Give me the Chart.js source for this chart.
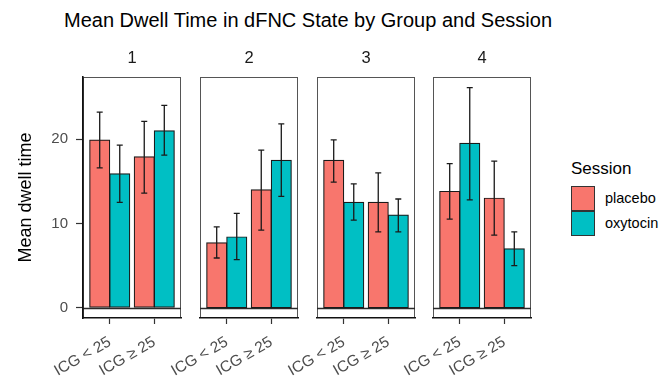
<!DOCTYPE html>
<html>
<head>
<meta charset="utf-8">
<script src="https://cdn.jsdelivr.net/npm/chart.js@4/dist/chart.umd.min.js"></script>
<style>
  body { margin: 0; background: #fff; font-family: 'Liberation Sans', Arial, sans-serif; }
  #wrap { position: relative; width: 670px; height: 378px; overflow: hidden; }
  canvas { position: absolute; top: 0; }
  .txt { position: absolute; white-space: nowrap; }
</style>
</head>
<body>
<div id="wrap">
  <div class="txt" style="left:64px;top:10px;font-size:20px;line-height:20px;color:#000">Mean Dwell Time in dFNC State by Group and Session</div>
</div>
<script>
// dFNC states (facets), ICG groups (x), sessions (fill)
const states = ['1', '2', '3', '4']
const groups = ['ICG < 25', 'ICG ≥ 25']
const sessions = ['placebo', 'oxytocin']
const yTicks = [0, 10, 20]

// one [ICG<25, ICG>=25] pair per state
const placeboMean = [[19.9, 17.9], [7.7, 14.0], [17.5, 12.5], [13.8, 13.0]]
const placeboLow = [[16.6, 13.6], [5.9, 9.2], [14.9, 9.0], [10.5, 8.6]]
const placeboHigh = [[23.2, 22.1], [9.6, 18.7], [19.9, 16.0], [17.1, 17.4]]
const oxytocinMean = [[15.9, 21.0], [8.4, 17.5], [12.5, 11.0], [19.5, 7.0]]
const oxytocinLow = [[12.5, 18.1], [5.7, 13.2], [10.4, 9.0], [12.8, 5.0]]
const oxytocinHigh = [[19.3, 24.0], [11.2, 21.8], [14.7, 12.9], [26.1, 9.0]]

const colors = ['#F8766D', '#00BFC4']

Chart.defaults.font.family = "'Liberation Sans', Arial, sans-serif"

const wrap = document.getElementById('wrap')
const panelLeft = [83, 200, 317, 433]
const panelWidth = 98
const panelTop = 77
const axisHeight = 60

// grey panel border + line at zero, drawn under the axes
const panelFrame = {
  id: 'panelFrame',
  beforeDraw(chart) {
    const { ctx, chartArea: a, scales: { y } } = chart
    ctx.save()
    ctx.strokeStyle = '#555'
    ctx.lineWidth = 1
    ctx.strokeRect(a.left + 0.5, a.top + 0.5, a.right - a.left - 1, a.bottom - a.top - 1)
    const y0 = Math.round(y.getPixelForValue(0)) + 0.5
    ctx.strokeStyle = '#2a2a2a'
    ctx.lineWidth = 1.3
    ctx.beginPath()
    ctx.moveTo(a.left, y0)
    ctx.lineTo(a.right, y0)
    ctx.stroke()
    ctx.restore()
  }
}

const errorBars = {
  id: 'errorBars',
  afterDatasetsDraw(chart) {
    const { ctx, scales: { y } } = chart
    ctx.save()
    ctx.strokeStyle = '#1a1a1a'
    ctx.lineWidth = 1.3
    chart.data.datasets.forEach((ds, d) => {
      chart.getDatasetMeta(d).data.forEach((bar, i) => {
        const lo = y.getPixelForValue(ds.errLow[i])
        const hi = y.getPixelForValue(ds.errHigh[i])
        ctx.beginPath()
        ctx.moveTo(bar.x, lo); ctx.lineTo(bar.x, hi)
        ctx.moveTo(bar.x - 3, lo); ctx.lineTo(bar.x + 3, lo)
        ctx.moveTo(bar.x - 3, hi); ctx.lineTo(bar.x + 3, hi)
        ctx.stroke()
      })
    })
    ctx.restore()
  }
}

function makeDataset(label, color, means, lows, highs) {
  return {
    label,
    data: means.map((v, i) => ({ x: i + 1, y: v })),
    errLow: lows,
    errHigh: highs,
    backgroundColor: color,
    borderColor: '#1a1a1a',
    borderWidth: 1.2,
    borderSkipped: false,
    inflateAmount: 0.5,
    categoryPercentage: 0.9,
    barPercentage: 1.0
  }
}

states.forEach((state, s) => {
  const first = s === 0
  const padLeft = first ? 0 : 60
  const canvasLeft = first ? 0 : panelLeft[s] - 60
  const canvas = document.createElement('canvas')
  canvas.width = padLeft + (first ? panelLeft[0] : 0) + panelWidth + 2
  canvas.height = 378
  canvas.style.left = canvasLeft + 'px'
  wrap.appendChild(canvas)

  const strip = document.createElement('div')
  strip.className = 'txt'
  strip.textContent = state
  strip.style.cssText = `left:${panelLeft[s]}px;width:${panelWidth}px;text-align:center;top:48px;font-size:16.5px;line-height:18px;color:#1a1a1a`
  wrap.appendChild(strip)

  new Chart(canvas, {
    type: 'bar',
    data: {
      datasets: [
        makeDataset(sessions[0], colors[0], placeboMean[s], placeboLow[s], placeboHigh[s]),
        makeDataset(sessions[1], colors[1], oxytocinMean[s], oxytocinLow[s], oxytocinHigh[s])
      ]
    },
    options: {
      responsive: false,
      animation: false,
      devicePixelRatio: 1,
      layout: { padding: { left: padLeft, right: 2, top: panelTop, bottom: 0 } },
      plugins: { legend: { display: false }, tooltip: { enabled: false } },
      scales: {
        x: {
          type: 'linear',
          min: 0.4,
          max: 2.6,
          bounds: 'data',
          offset: false,
          afterBuildTicks: (scale) => { scale.ticks = groups.map((g, i) => ({ value: i + 1 })) },
          afterFit: (scale) => { scale.height = axisHeight },
          grid: { offset: false, drawOnChartArea: false, tickLength: 6, tickColor: '#333', tickWidth: 1.2 },
          border: { display: true, color: '#111', width: 1.6 },
          ticks: {
            autoSkip: false,
            minRotation: 30,
            maxRotation: 30,
            padding: 9,
            color: '#4d4d4d',
            font: { size: 15.5 },
            callback: (v, i) => groups[i]
          }
        },
        y: {
          display: first,
          min: -1.22,
          max: 27.37,
          afterBuildTicks: (scale) => { scale.ticks = yTicks.map(v => ({ value: v })) },
          afterFit: (scale) => { if (first) scale.width = panelLeft[0] },
          grid: { drawOnChartArea: false, tickLength: 7, tickColor: '#333', tickWidth: 1.2 },
          border: { display: true, color: '#111', width: 1.6 },
          ticks: { padding: 8, color: '#4d4d4d', font: { size: 15 } },
          title: {
            display: true,
            text: 'Mean dwell time',
            color: '#000',
            font: { size: 18 },
            padding: { top: 15, bottom: 0 }
          }
        }
      }
    },
    plugins: [panelFrame, errorBars]
  })
})

// legend
const legTitle = document.createElement('div')
legTitle.className = 'txt'
legTitle.textContent = 'Session'
legTitle.style.cssText = 'left:571px;top:160px;font-size:17px;line-height:17px;color:#000'
wrap.appendChild(legTitle)

sessions.forEach((name, i) => {
  const key = document.createElement('div')
  key.style.cssText = `position:absolute;left:571px;top:${186 + i * 25}px;width:22px;height:23px;background:${colors[i]};border:1px solid #333`
  wrap.appendChild(key)
  const lab = document.createElement('div')
  lab.className = 'txt'
  lab.textContent = name
  lab.style.cssText = `left:605px;top:${186 + i * 25}px;font-size:14.5px;line-height:25px;color:#000`
  wrap.appendChild(lab)
})
</script>
</body>
</html>
